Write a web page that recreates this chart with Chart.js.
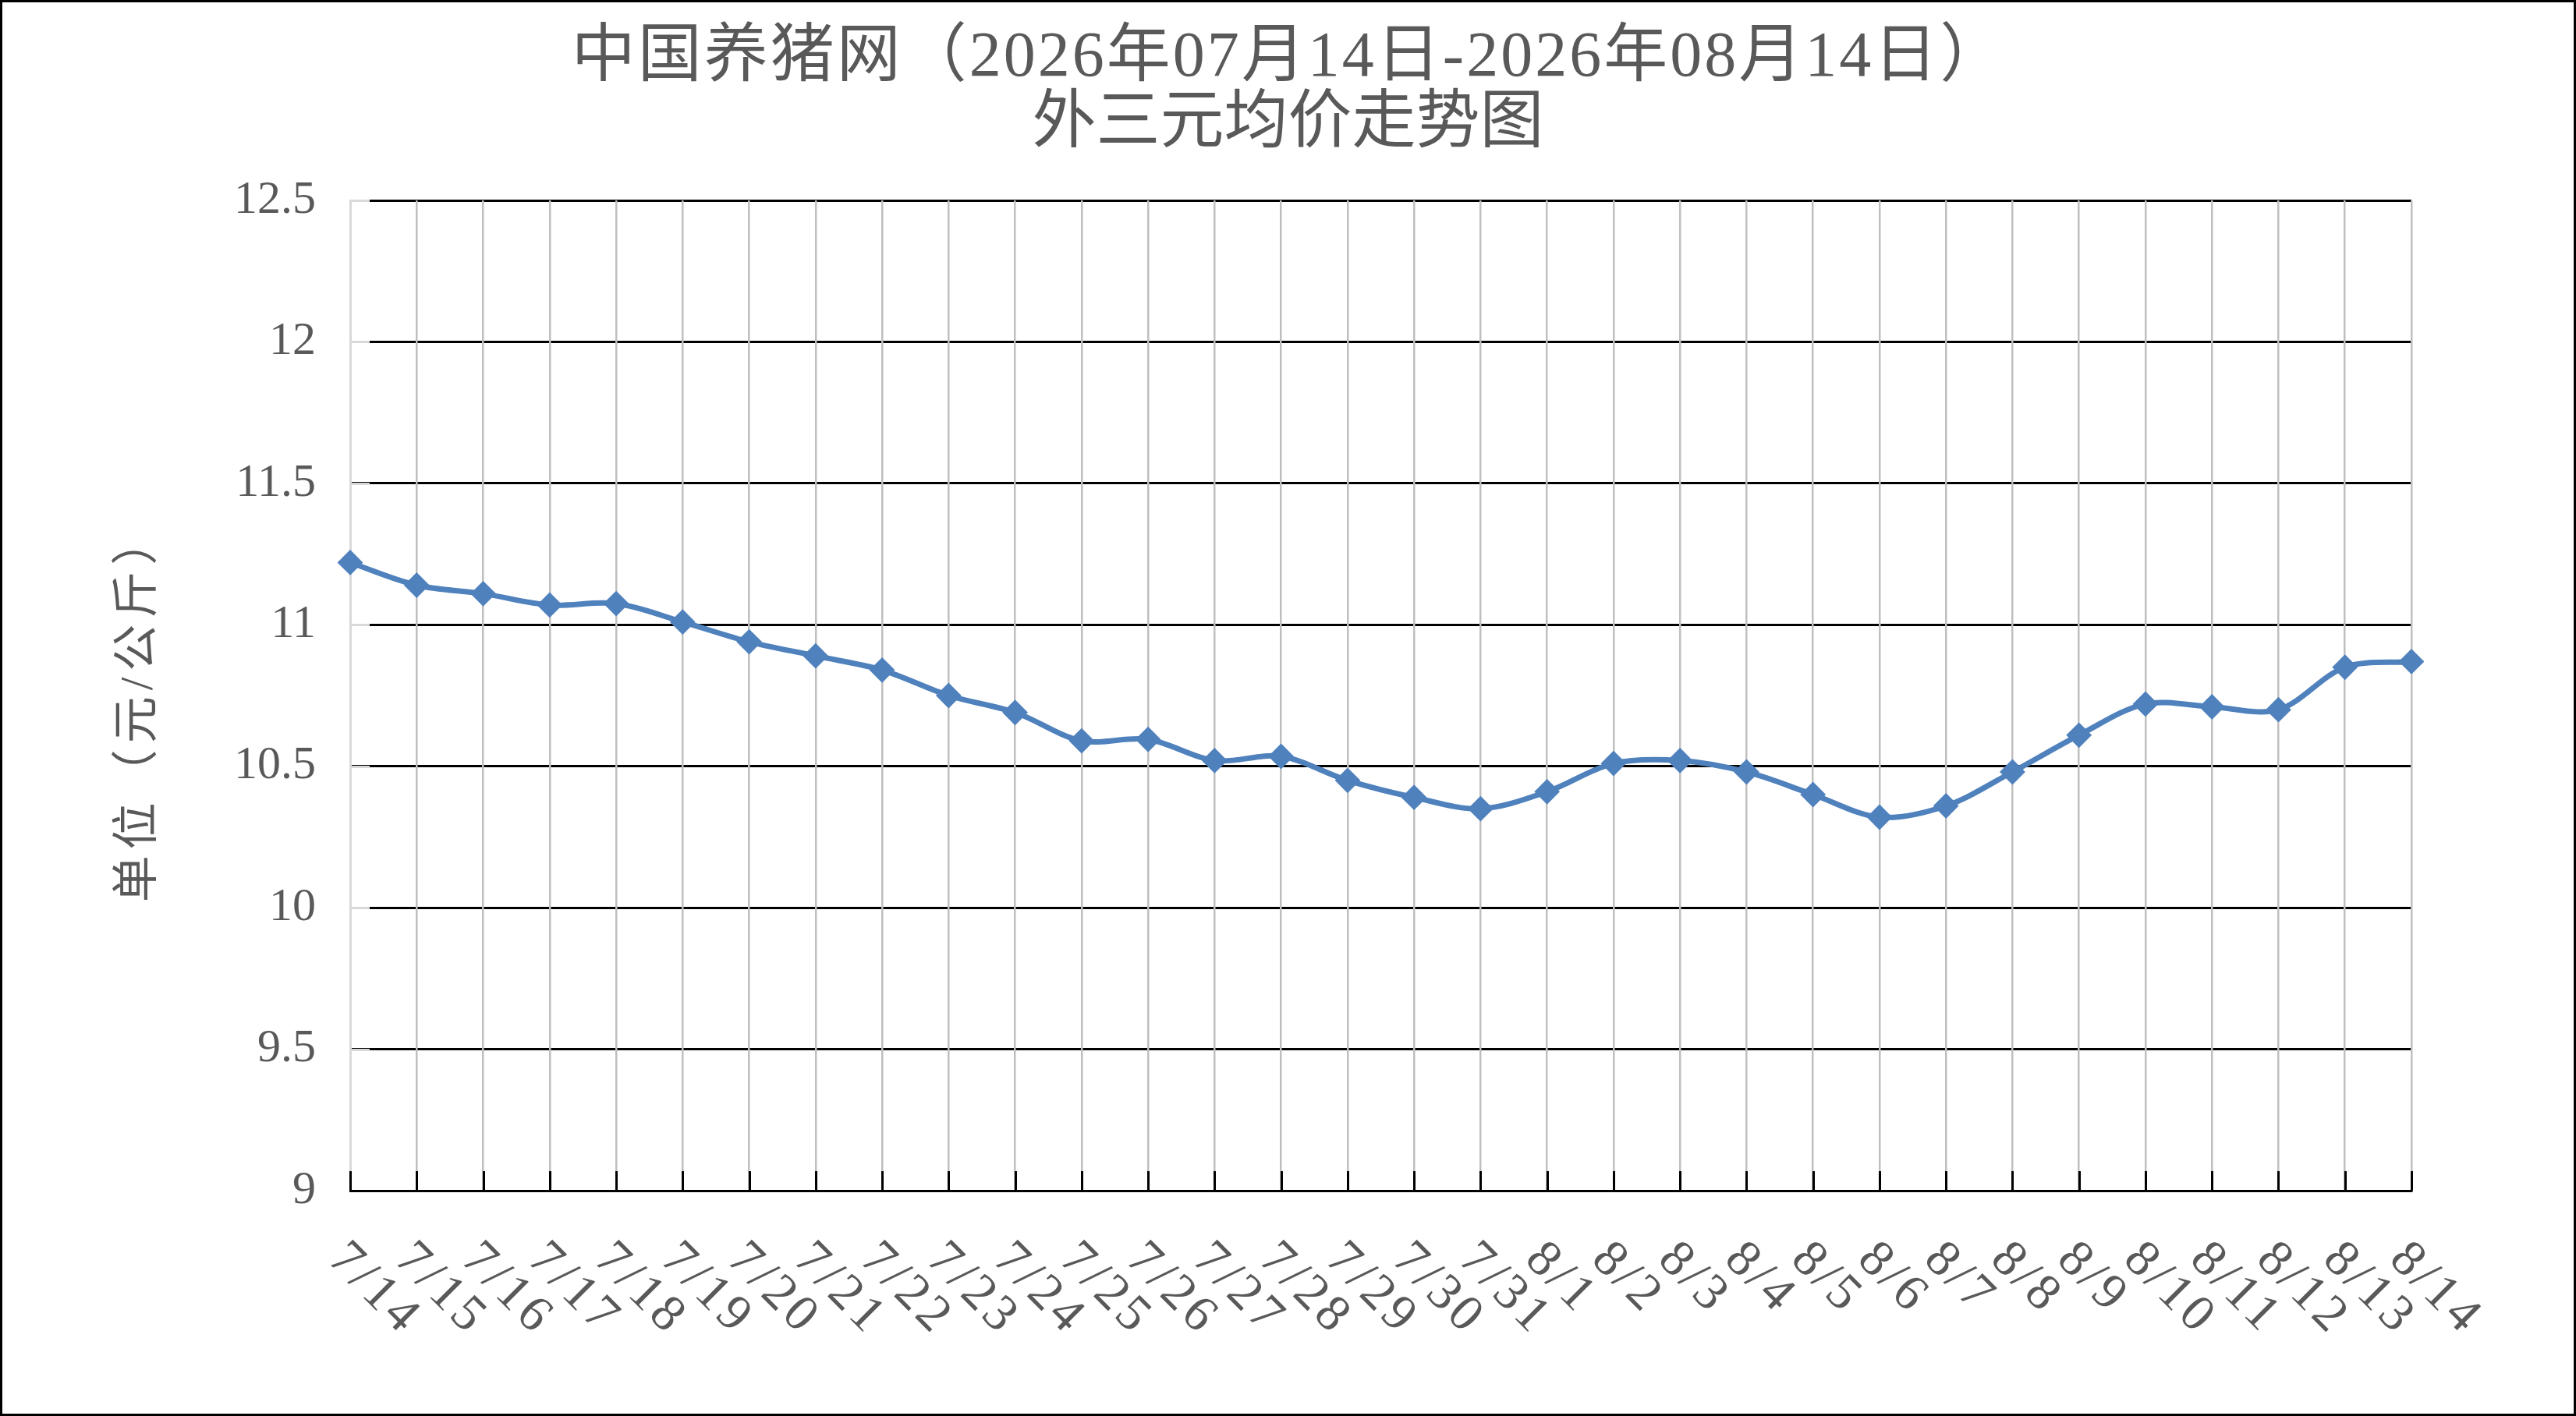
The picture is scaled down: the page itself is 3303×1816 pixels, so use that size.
<!DOCTYPE html>
<html>
<head>
<meta charset="utf-8">
<script src="https://cdn.jsdelivr.net/npm/chart.js@4.4.1/dist/chart.umd.min.js"></script>
<style>
  html, body { margin: 0; padding: 0; background: #ffffff; }
  canvas { display: block; background: #ffffff; }
</style>
</head>
<body>
<canvas id="c" width="3303" height="1816" style="width:3303px;height:1816px"></canvas>
<script>
// ---- data ----
const titleLines = ['中国养猪网（2026年07月14日-2026年08月14日）', '外三元均价走势图'];
const yAxisTitle = '单位（元/公斤）';
const categories = ['7/14','7/15','7/16','7/17','7/18','7/19','7/20','7/21','7/22','7/23','7/24','7/25','7/26','7/27','7/28','7/29','7/30','7/31',
                    '8/1','8/2','8/3','8/4','8/5','8/6','8/7','8/8','8/9','8/10','8/11','8/12','8/13','8/14'];
const prices = [11.22, 11.14, 11.11, 11.07, 11.075, 11.01, 10.94, 10.89, 10.84, 10.75, 10.69, 10.59, 10.595, 10.52, 10.535, 10.45, 10.39, 10.35,
                10.41, 10.51, 10.52, 10.48, 10.40, 10.32, 10.36, 10.48, 10.61, 10.72, 10.71, 10.70, 10.85, 10.87];
const yTicks = [9, 9.5, 10, 10.5, 11, 11.5, 12, 12.5];

// ---- styles ----
const TEXT = '#595959';
const SERIF = '"Liberation Serif", "Noto Sans CJK SC", serif';
const LINE = '#4f81bd';

const decorPlugin = {
  id: 'decor',
  beforeDatasetsDraw(chart) {
    const ctx = chart.ctx;
    const x = chart.scales.x, y = chart.scales.y;
    const a = chart.chartArea;
    ctx.save();
    // inside tick marks on x axis (black)
    ctx.strokeStyle = '#000000';
    ctx.lineWidth = 3;
    ctx.beginPath();
    for (let i = 0; i < x.ticks.length; i++) {
      const px = Math.round(x.getPixelForTick(i)) + 0.5;
      ctx.moveTo(px, a.bottom);
      ctx.lineTo(px, a.bottom - 25);
    }
    ctx.stroke();
    // inside tick marks on y axis (light gray)
    ctx.strokeStyle = '#d9d9d9';
    ctx.beginPath();
    for (let i = 0; i < y.ticks.length; i++) {
      const py = Math.round(y.getPixelForTick(i)) + 0.5;
      if (Math.abs(py - a.bottom) < 3) continue;
      ctx.moveTo(a.left, py);
      ctx.lineTo(a.left + 25, py);
    }
    ctx.stroke();
    ctx.restore();
  },
  afterDraw(chart) {
    const ctx = chart.ctx;
    const x = chart.scales.x;
    const a = chart.chartArea;
    const W = chart.width, H = chart.height;
    ctx.save();
    ctx.fillStyle = TEXT;
    // title
    ctx.font = '82px ' + SERIF;
    ctx.textAlign = 'center';
    ctx.textBaseline = 'middle';
    ctx.letterSpacing = '3px';
    ctx.fillText(titleLines[0], W / 2 + 1, 75);
    ctx.letterSpacing = '0px';
    ctx.fillText(titleLines[1], W / 2, 160);
    // y-axis title
    ctx.save();
    ctx.font = '60px ' + SERIF;
    ctx.letterSpacing = '8px';
    ctx.translate(179, 907);
    ctx.rotate(-Math.PI / 2);
    ctx.textAlign = 'center';
    ctx.textBaseline = 'middle';
    ctx.fillText(yAxisTitle, 0, 0);
    ctx.restore();
    // x tick labels, rotated 45deg clockwise
    ctx.font = '66px ' + SERIF;
    ctx.letterSpacing = '5px';
    ctx.textAlign = 'left';
    ctx.textBaseline = 'middle';
    for (let i = 0; i < x.ticks.length; i++) {
      const px = x.getPixelForTick(i);
      ctx.save();
      ctx.translate(px - 18, a.bottom + 78);
      ctx.rotate(Math.PI / 4);
      ctx.fillText(categories[i], 0, 0);
      ctx.restore();
    }
    ctx.letterSpacing = '0px';
    // outer frame
    ctx.strokeStyle = '#000000';
    ctx.lineWidth = 3;
    ctx.strokeRect(1.5, 1.5, W - 3, H - 3);
    ctx.restore();
  }
};

new Chart(document.getElementById('c'), {
  type: 'line',
  data: {
    labels: categories,
    datasets: [{
      data: prices,
      borderColor: LINE,
      backgroundColor: LINE,
      borderWidth: 7,
      tension: 0.33,
      pointStyle: 'rectRot',
      pointRadius: 15,
      pointBorderWidth: 2,
      pointBorderColor: LINE,
      pointBackgroundColor: LINE,
      clip: false
    }]
  },
  options: {
    responsive: false,
    animation: false,
    devicePixelRatio: 1,
    layout: { padding: { top: 257, right: 211, bottom: 0, left: 0 } },
    plugins: { legend: { display: false }, title: { display: false }, tooltip: { enabled: false } },
    scales: {
      y: {
        min: 9,
        max: 12.5,
        afterBuildTicks(scale) { scale.ticks = yTicks.map(v => ({ value: v })); },
        afterFit(scale) { scale.width = 449; },
        grid: { color: '#000000', lineWidth: 3, drawTicks: false },
        border: { display: true, color: '#d9d9d9', width: 3 },
        ticks: {
          color: TEXT,
          font: { family: SERIF, size: 60 },
          padding: 44,
          callback: (v) => String(v)
        }
      },
      x: {
        afterFit(scale) { scale.height = 289; },
        grid: { color: '#bfbfbf', lineWidth: 2.5, drawTicks: false },
        border: { display: true, color: '#000000', width: 3 },
        ticks: { display: false }
      }
    }
  },
  plugins: [decorPlugin]
});
</script>
</body>
</html>
